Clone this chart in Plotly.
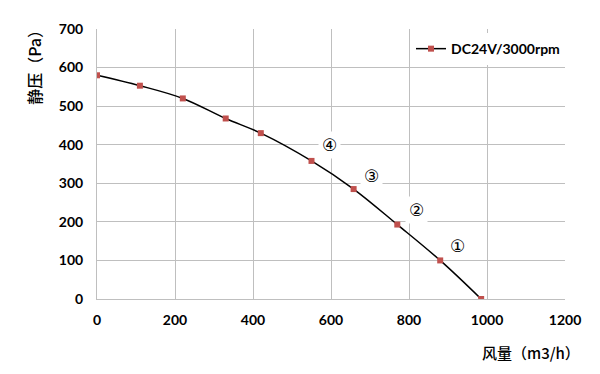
import plotly.graph_objects as go

airflow = [0, 110, 220, 330, 420, 550, 658, 770, 880, 985]
pressure = [580, 553, 520, 468, 430, 358, 285, 193, 100, 0]
series_name = "DC24V/3000rpm"
x_ticks = [0, 200, 400, 600, 800, 1000, 1200]
y_ticks = [0, 100, 200, 300, 400, 500, 600, 700]
point_labels = ["④", "③", "②", "①"]
label_x = [595, 705, 820, 925]
label_y = [400, 320, 230, 138]

font_tick = dict(family="Lato, 'Open Sans', sans-serif", size=14, color="#000000", weight="bold")

fig = go.Figure()
fig.add_trace(go.Scatter(
    x=airflow, y=pressure, mode="lines+markers", name=series_name,
    line=dict(color="#000000", width=1.5, shape="spline", smoothing=1.0),
    marker=dict(symbol="square", size=6, color="#C0504D"),
))
for t, lx, ly in zip(point_labels, label_x, label_y):
    fig.add_annotation(x=lx, y=ly, text=t, showarrow=False, bgcolor="#ffffff",
                       font=dict(family="DejaVu Sans", size=17, color="#000000"),
                       borderpad=3)

fig.add_annotation(xref="paper", yref="paper", x=-0.135, y=1.035, xanchor="center", yanchor="top",
                   text="静压（Pa）", textangle=-90, showarrow=False,
                   font=dict(family="Noto Sans CJK SC", size=16, color="#000000", weight=500))
fig.add_annotation(xref="paper", yref="paper", x=1.036, y=-0.15, xanchor="right", yanchor="top",
                   text="风量（m3/h）", showarrow=False,
                   font=dict(family="Noto Sans CJK SC", size=15, color="#000000", weight=500))

fig.update_layout(
    width=592, height=366,
    margin=dict(l=89, r=35, t=17, b=75),
    paper_bgcolor="#ffffff", plot_bgcolor="#ffffff",
    showlegend=True,
    legend=dict(x=1.0, y=0.985, xanchor="right", yanchor="top", bgcolor="#ffffff",
                font=dict(family="Lato, 'Open Sans', sans-serif", size=14, color="#000000", weight="bold"),
                itemwidth=30),
    xaxis=dict(range=[0, 1200], tickvals=x_ticks, showgrid=True, gridcolor="#bfbfbf", gridwidth=1,
               zeroline=False, showline=True, linecolor="#bfbfbf", ticks="", tickfont=font_tick,
               ticklabelstandoff=8),
    yaxis=dict(range=[0, 700], tickvals=y_ticks, showgrid=True, gridcolor="#bfbfbf", gridwidth=1,
               zeroline=False, showline=True, linecolor="#bfbfbf", ticks="", tickfont=font_tick,
               ticklabelstandoff=10),
)
fig.write_html("out.html")
